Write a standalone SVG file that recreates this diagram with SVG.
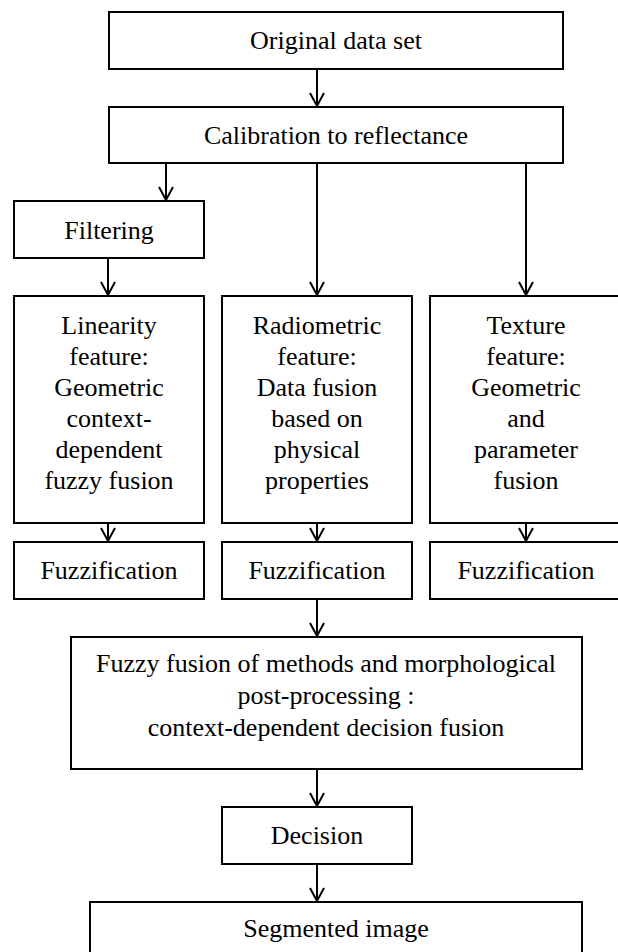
<svg xmlns="http://www.w3.org/2000/svg" width="618" height="952" viewBox="0 0 618 952" font-family="Liberation Serif, DejaVu Serif, serif">
<style>
.box{fill:#fff;stroke:#000;stroke-width:2}
.t{font-size:26px;fill:#000;text-anchor:middle}
.c{stroke:#000;stroke-width:2;fill:none;marker-end:url(#arr)}
</style>
<defs>
<marker id="arr" markerUnits="userSpaceOnUse" markerWidth="20" markerHeight="20" viewBox="-15 -10 17 20" refX="0" refY="0" orient="auto">
<path d="M -13 -7 L 0 0 L -13 7" fill="none" stroke="#000" stroke-width="2"/>
</marker>
</defs>
<rect width="618" height="952" fill="#fff"/>
<g id="connectors">
<line class="c" x1="317" y1="69" x2="317" y2="106"/>
<line class="c" x1="166" y1="163" x2="166" y2="200"/>
<line class="c" x1="317" y1="163" x2="317" y2="295"/>
<line class="c" x1="526" y1="163" x2="526" y2="295"/>
<line class="c" x1="108" y1="258" x2="108" y2="295"/>
<line class="c" x1="108" y1="523" x2="108" y2="541"/>
<line class="c" x1="317" y1="523" x2="317" y2="541"/>
<line class="c" x1="526" y1="523" x2="526" y2="541"/>
<line class="c" x1="317" y1="599" x2="317" y2="636"/>
<line class="c" x1="317" y1="769" x2="317" y2="806"/>
<line class="c" x1="317" y1="864" x2="317" y2="901"/>
</g>
<g id="original">
<rect class="box" x="109" y="12" width="454" height="57"/>
<text class="t" x="336" y="49" font-family="Liberation Serif, DejaVu Serif, serif">Original data set</text>
</g>
<g id="calibration">
<rect class="box" x="109" y="107" width="454" height="56"/>
<text class="t" x="336" y="144">Calibration to reflectance</text>
</g>
<g id="filtering">
<rect class="box" x="14" y="201" width="190" height="57"/>
<text class="t" x="109" y="239">Filtering</text>
</g>
<g id="linearity">
<rect class="box" x="14" y="296" width="190" height="227"/>
<text class="t" x="109" y="334">Linearity</text>
<text class="t" x="109" y="365">feature:</text>
<text class="t" x="109" y="396">Geometric</text>
<text class="t" x="109" y="427">context-</text>
<text class="t" x="109" y="458">dependent</text>
<text class="t" x="109" y="489">fuzzy fusion</text>
</g>
<g id="radiometric">
<rect class="box" x="222" y="296" width="190" height="227"/>
<text class="t" x="317" y="334">Radiometric</text>
<text class="t" x="317" y="365">feature:</text>
<text class="t" x="317" y="396">Data fusion</text>
<text class="t" x="317" y="427">based on</text>
<text class="t" x="317" y="458">physical</text>
<text class="t" x="317" y="489">properties</text>
</g>
<g id="texture">
<rect class="box" x="430" y="296" width="192" height="227"/>
<text class="t" x="526" y="334">Texture</text>
<text class="t" x="526" y="365">feature:</text>
<text class="t" x="526" y="396">Geometric</text>
<text class="t" x="526" y="427">and</text>
<text class="t" x="526" y="458">parameter</text>
<text class="t" x="526" y="489">fusion</text>
</g>
<g id="fuzzification1">
<rect class="box" x="14" y="542" width="190" height="57"/>
<text class="t" x="109" y="579">Fuzzification</text>
</g>
<g id="fuzzification2">
<rect class="box" x="222" y="542" width="190" height="57"/>
<text class="t" x="317" y="579">Fuzzification</text>
</g>
<g id="fuzzification3">
<rect class="box" x="430" y="542" width="192" height="57"/>
<text class="t" x="526" y="579">Fuzzification</text>
</g>
<g id="fuzzyfusion">
<rect class="box" x="71" y="637" width="511" height="132"/>
<text class="t" x="326" y="672">Fuzzy fusion of methods and morphological</text>
<text class="t" x="326" y="704">post-processing :</text>
<text class="t" x="326" y="736">context-dependent decision fusion</text>
</g>
<g id="decision">
<rect class="box" x="222" y="807" width="190" height="57"/>
<text class="t" x="317" y="844">Decision</text>
</g>
<g id="segmented">
<rect class="box" x="90" y="902" width="492" height="60"/>
<text class="t" x="336" y="937">Segmented image</text>
</g>
</svg>
